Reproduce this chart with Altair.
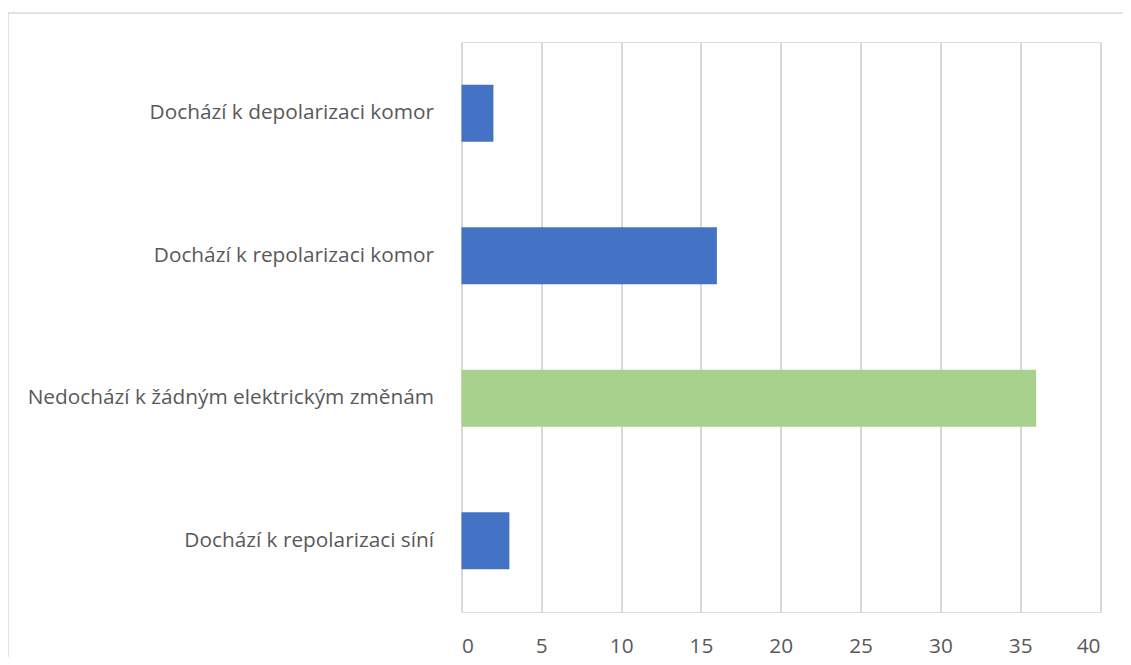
import altair as alt
import pandas as pd

categories = [
    "Dochází k depolarizaci komor",
    "Dochází k repolarizaci komor",
    "Nedochází k žádným elektrickým změnám",
    "Dochází k repolarizaci síní",
]
values = [2, 16, 36, 3]
colors = ["#4472C4", "#4472C4", "#A9D18E", "#4472C4"]

df = pd.DataFrame({"cat": categories, "val": values, "color": colors})

W, H = 638.5, 570
PL, PT = 453.5, 34
TW, TH = 1115, 649

FONT = "Open Sans"
FS = 20.8

bars = alt.Chart(df).mark_bar().encode(
    y=alt.Y("cat:N", sort=categories,
            scale=alt.Scale(paddingInner=0.6, paddingOuter=0.3),
            axis=alt.Axis(title=None, domain=False, ticks=False, labelPadding=28,
                          labelFont=FONT, labelFontSize=FS, labelColor="#595959",
                          labelLimit=500, grid=False)),
    x=alt.X("val:Q", scale=alt.Scale(domain=[0, 40], nice=False),
            axis=alt.Axis(title=None, values=list(range(0, 45, 5)), domain=False, ticks=False,
                          labelPadding=24, labelFont=FONT, labelFontSize=FS,
                          labelColor="#595959", grid=True, gridColor="#D9D9D9",
                          gridWidth=2)),
    color=alt.Color("color:N", scale=None),
)

border = alt.Chart(pd.DataFrame({"a": [0]})).mark_rect(
    fill=None, stroke="#D9D9D9", strokeWidth=1.5, clip=False
).encode(
    x=alt.value(-PL), x2=alt.value(W + 200),
    y=alt.value(-29), y2=alt.value(H + 200),
)

chart = alt.layer(border, bars).properties(
    width=W, height=H,
    autosize=alt.AutoSizeParams(type="none"),
    padding={"left": PL, "top": PT, "right": TW - PL - W, "bottom": TH - PT - H},
).configure_view(stroke=None).configure(background="white")

chart.save("out.html", embed_options={"renderer": "svg", "actions": False})
